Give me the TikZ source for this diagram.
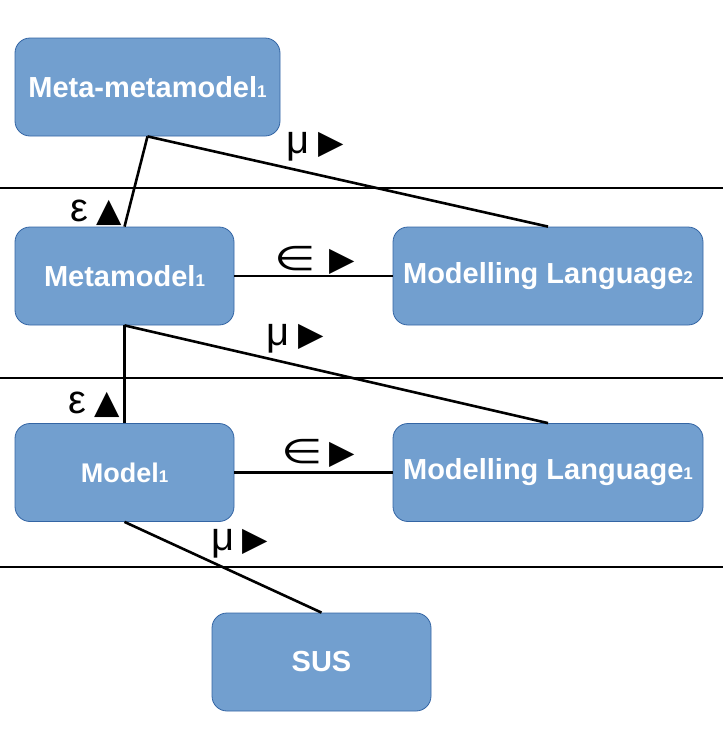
\documentclass[tikz,border=0pt]{standalone}
\usepackage{fontspec}
\setmainfont{Liberation Sans}
\newfontfamily\symfont{DejaVu Sans}
\definecolor{boxfill}{HTML}{729FCF}
\definecolor{boxline}{HTML}{3465A4}
\newcommand{\lowidx}[1]{{\fontsize{17}{17}\selectfont #1}}
\newcommand{\grk}[1]{{\fontsize{40}{40}\selectfont #1}}
\newcommand{\tri}[1]{{\symfont\fontsize{33}{33}\selectfont #1}}
\newcommand{\elem}{{\symfont\fontsize{34}{34}\selectfont\scalebox{1.4}[1]{∈}}}
\begin{document}
\begin{tikzpicture}[x=1pt,y=-1pt,
  blk/.style={draw=boxline,line width=0.8pt,fill=boxfill,rounded corners=15pt,
    text=white,font=\fontsize{29}{32}\selectfont\bfseries,inner sep=0pt,
    minimum height=98pt},
  conn/.style={line width=2.6pt,black},
  sep/.style={line width=1.2pt,black},
  lbl/.style={inner sep=0pt,anchor=base west}]
\useasboundingbox (0,0) rectangle (723,753);
% boxes
\node[blk,minimum width=265pt] (mmm) at (147.5,87) {Meta-metamodel\lowidx{1}};
\node[blk,minimum width=219pt] (mm) at (124.5,276) {Metamodel\lowidx{1}};
\node[blk,minimum width=310pt] (ml2) at (548,276) {Modelling Language\lowidx{2}};
\node[blk,minimum width=219pt,font=\fontsize{27}{30}\selectfont\bfseries] (m) at (124.5,472.5) {Model\lowidx{1}};
\node[blk,minimum width=310pt] (ml1) at (548,472.5) {Modelling Language\lowidx{1}};
\node[blk,minimum width=219pt] (sus) at (321.5,662) {SUS};
% level separators
\coordinate (s1a) at (0,188); \coordinate (s1b) at (723,188);
\coordinate (s2a) at (0,378); \coordinate (s2b) at (723,378);
\coordinate (s3a) at (0,567); \coordinate (s3b) at (723,567);
\draw[sep] (s1a) -- (s1b);
\draw[sep] (s2a) -- (s2b);
\draw[sep] (s3a) -- (s3b);
% connectors
\draw[conn] (mmm.south) -- (mm.north);
\draw[conn] (mmm.south) -- (ml2.north);
\draw[conn] (mm.east) -- (ml2.west);
\draw[conn] (mm.south) -- (m.north);
\draw[conn] (mm.south) -- (ml1.north);
\draw[conn] (m.east) -- (ml1.west);
\draw[conn] (m.south) -- (sus.north);
% labels
\node[lbl] (l1) at (286,153) {\grk{μ}\hspace{9pt}\tri{▶}};
\node[lbl] (l2) at (70,221) {\grk{ε}\hspace{8pt}\tri{▲}};
\node[lbl] (l3) at (274,270) {\elem\hspace{14pt}\tri{▶}};
\node[lbl] (l4) at (266,345) {\grk{μ}\hspace{9pt}\tri{▶}};
\node[lbl] (l5) at (68,413) {\grk{ε}\hspace{8pt}\tri{▲}};
\node[lbl] (l6) at (281,463) {\elem\hspace{7pt}\tri{▶}};
\node[lbl] (l7) at (211,550) {\grk{μ}\hspace{8pt}\tri{▶}};
\end{tikzpicture}
\end{document}
